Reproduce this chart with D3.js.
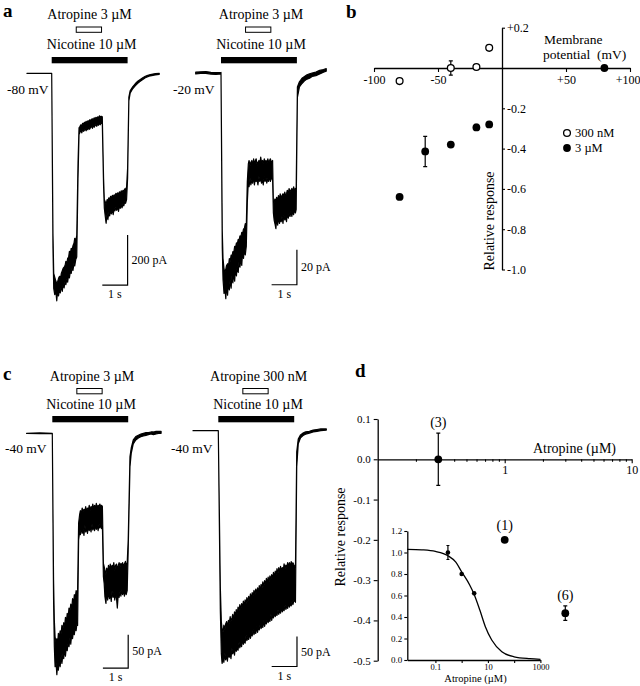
<!DOCTYPE html>
<html><head><meta charset="utf-8">
<script src="https://cdn.jsdelivr.net/npm/d3@7"></script>
<style>
body{margin:0;background:#fff}
svg{display:block}
</style></head><body>
<svg id="fig" width="640" height="686"></svg>
<script>
// ================= DATA =================
// Panel a/c: current traces, [time (s from nicotine onset), lower envelope (pA), upper envelope (pA)]
const traceA1 = [[-0.98,0,0],[0,0,0],[0.05,-700,-640],
[0.08,-860,-800],[0.12,-885,-815],[0.16,-870,-830],[0.2,-910,-840],[0.23,-875,-835],[0.27,-890,-820],[0.31,-865,-812],[0.34,-878,-825],[0.38,-850,-800],[0.42,-872,-790],[0.45,-845,-780],[0.49,-858,-775],[0.53,-830,-768],[0.56,-845,-752],[0.6,-822,-760],[0.63,-835,-740],[0.67,-805,-735],[0.7,-818,-712],[0.74,-790,-720],[0.77,-800,-700],[0.81,-775,-705],[0.84,-788,-690],[0.88,-760,-680],[0.91,-770,-660],[0.95,-745,-670],[0.99,-735,-648],
[1.04,-420,-360],
[1.08,-245,-218],[1.12,-236,-212],[1.15,-228,-206],[1.19,-238,-210],[1.22,-225,-200],[1.26,-232,-204],[1.29,-228,-196],[1.33,-222,-200],[1.36,-230,-192],[1.4,-220,-198],[1.43,-226,-190],[1.47,-214,-192],[1.5,-224,-186],[1.54,-216,-190],[1.57,-212,-184],[1.61,-220,-182],[1.64,-208,-186],[1.68,-216,-178],[1.71,-210,-184],[1.75,-204,-176],[1.78,-212,-180],[1.82,-202,-174],[1.85,-208,-178],[1.89,-200,-170],[1.92,-206,-176],[1.96,-198,-172],[2.0,-202,-174],
[2.05,-450,-420],
[2.08,-540,-505],[2.12,-575,-515],[2.15,-600,-525],[2.19,-560,-505],[2.22,-585,-510],[2.26,-555,-498],[2.29,-570,-505],[2.33,-548,-492],[2.36,-562,-500],[2.4,-542,-488],[2.43,-565,-495],[2.47,-540,-486],[2.5,-550,-492],[2.54,-535,-480],[2.57,-548,-488],[2.61,-530,-478],[2.64,-552,-486],[2.68,-528,-474],[2.71,-540,-482],[2.75,-525,-470],[2.78,-538,-478],[2.82,-520,-468],[2.85,-530,-472],[2.89,-512,-462],[2.92,-520,-465],[2.96,-505,-455],
[3.0,-420,-380],[3.05,-110,-95],[3.1,-80,-70],[3.2,-62,-54],[3.3,-50,-42],[3.4,-40,-32],[3.5,-32,-25],[3.6,-25,-18],[3.7,-18,-12],[3.8,-14,-8],[3.9,-10,-5],[4.0,-8,-3],[4.1,-6,-1],[4.25,-4,0]];

const traceA2 = [[-1.0,-0.5,0.5],[-0.8,-0.3,0.7],[-0.6,-0.2,0.8],[-0.4,-0.6,0.4],[-0.2,-0.8,0.2],[0,-0.5,0.3],
[0.05,-100,-90],
[0.08,-118,-106],[0.12,-126,-112],[0.15,-122,-114],[0.19,-129,-112],[0.22,-121,-110],[0.26,-127,-109],[0.29,-120,-111],[0.33,-124,-106],[0.36,-118,-108],[0.4,-123,-104],[0.43,-116,-105],[0.47,-120,-102],[0.5,-114,-103],[0.54,-119,-99],[0.57,-112,-100],[0.61,-116,-97],[0.64,-110,-98],[0.68,-114,-95],[0.71,-108,-96],[0.75,-111,-93],[0.78,-106,-94],[0.82,-110,-91],[0.85,-103,-92],[0.89,-106,-89],[0.92,-101,-89],[0.96,-104,-86],[1.0,-99,-87],
[1.04,-74,-62],
[1.08,-62,-52],[1.11,-65,-50],[1.15,-60,-53],[1.18,-64,-51],[1.22,-61,-50],[1.25,-63,-53],[1.29,-59,-49],[1.32,-64,-52],[1.36,-60,-50],[1.39,-62,-49],[1.43,-61,-53],[1.46,-64,-51],[1.5,-59,-50],[1.53,-62,-52],[1.57,-60,-48],[1.6,-63,-51],[1.64,-61,-50],[1.67,-64,-52],[1.71,-59,-49],[1.74,-62,-51],[1.78,-60,-50],[1.81,-63,-52],[1.85,-60,-49],[1.88,-62,-51],[1.92,-59,-50],[1.95,-62,-49],[1.99,-60,-51],[2.04,-61,-50],
[2.07,-80,-74],
[2.1,-84,-74],[2.13,-86,-72],[2.17,-89,-73],[2.2,-83,-71],[2.24,-87,-73],[2.27,-82,-70],[2.31,-86,-72],[2.34,-84,-69],[2.38,-85,-72],[2.41,-82,-70],[2.45,-86,-69],[2.48,-81,-71],[2.52,-84,-68],[2.55,-82,-70],[2.59,-85,-69],[2.62,-80,-67],[2.66,-83,-69],[2.69,-80,-66],[2.73,-82,-68],[2.76,-79,-67],[2.8,-82,-66],[2.83,-79,-68],[2.87,-81,-65],[2.9,-78,-67],[2.94,-80,-66],[2.97,-78,-67],
[3.02,-14,-8],[3.1,-8,-5],[3.2,-6,-3],[3.3,-4.5,-2],[3.4,-3.5,-1],[3.5,-3,-0.5],[3.6,-2,0],[3.75,-1.5,0.5],[3.9,-0.5,1.5],[4.05,0.5,2],[4.16,1,2.5]];

const traceC1 = [[-1.02,0,0],[-0.5,-0.5,0.5],[0,0,0],
[0.05,-250,-220],
[0.08,-320,-280],[0.11,-350,-305],[0.14,-340,-312],[0.18,-362,-308],[0.21,-345,-315],[0.24,-355,-300],[0.28,-338,-306],[0.31,-350,-296],[0.35,-332,-300],[0.38,-345,-288],[0.42,-330,-294],[0.45,-338,-284],[0.49,-322,-288],[0.52,-334,-276],[0.56,-318,-282],[0.59,-326,-270],[0.63,-312,-274],[0.66,-320,-262],[0.7,-306,-266],[0.73,-316,-256],[0.77,-300,-262],[0.8,-308,-248],[0.84,-296,-254],[0.87,-302,-242],[0.91,-290,-246],[0.94,-296,-236],[0.98,-284,-240],[1.0,-288,-234],
[1.04,-160,-135],
[1.08,-148,-122],[1.11,-152,-116],[1.15,-140,-120],[1.18,-150,-112],[1.22,-144,-118],[1.25,-153,-114],[1.29,-138,-116],[1.32,-148,-110],[1.36,-142,-118],[1.39,-150,-112],[1.43,-138,-114],[1.46,-146,-108],[1.5,-140,-116],[1.53,-148,-110],[1.57,-136,-112],[1.6,-145,-106],[1.64,-139,-114],[1.67,-146,-108],[1.71,-137,-112],[1.74,-144,-105],[1.78,-138,-112],[1.81,-146,-108],[1.85,-136,-110],[1.88,-142,-106],[1.92,-137,-111],[1.95,-143,-108],[1.98,-139,-110],
[2.02,-215,-195],
[2.05,-225,-200],[2.08,-245,-205],[2.12,-255,-212],[2.15,-238,-202],[2.19,-250,-208],[2.22,-236,-198],[2.26,-248,-205],[2.29,-240,-196],[2.33,-252,-204],[2.36,-236,-198],[2.4,-246,-200],[2.43,-238,-194],[2.47,-250,-206],[2.5,-240,-198],[2.54,-248,-196],[2.57,-262,-204],[2.61,-240,-198],[2.64,-246,-194],[2.68,-236,-200],[2.71,-244,-195],[2.75,-234,-198],[2.78,-242,-194],[2.82,-236,-200],[2.85,-244,-196],[2.89,-234,-192],[2.92,-242,-198],[2.96,-236,-194],
[3.0,-175,-160],[3.07,-50,-35],[3.12,-30,-22],[3.2,-16,-10],[3.3,-10,-5],[3.4,-7,-3],[3.5,-5,-1],[3.6,-4,0],[3.7,-3,1],[3.8,-2,1],[3.9,-1,2],[4.0,-2,2],[4.1,-1,3],[4.2,0,3],[4.3,0,3]];

const traceC2 = [[-1.0,0,0],[0,0,0],
[0.08,-300,-260],
[0.12,-372,-318],[0.15,-388,-330],[0.19,-378,-336],[0.22,-386,-324],[0.26,-370,-332],[0.29,-382,-322],[0.33,-375,-318],[0.36,-384,-328],[0.4,-366,-316],[0.43,-378,-322],[0.47,-370,-310],[0.5,-380,-318],[0.54,-362,-312],[0.57,-372,-306],[0.61,-365,-315],[0.64,-374,-302],[0.68,-358,-308],[0.71,-368,-298],[0.75,-360,-306],[0.78,-366,-294],[0.82,-352,-300],[0.85,-362,-290],[0.89,-355,-298],[0.92,-360,-288],[0.96,-346,-294],[0.99,-356,-284],[1.03,-350,-292],[1.06,-354,-282],[1.1,-340,-288],[1.13,-350,-278],[1.17,-344,-286],[1.2,-348,-276],[1.24,-336,-282],[1.27,-346,-272],[1.31,-338,-280],[1.34,-342,-270],[1.38,-330,-276],[1.41,-340,-266],[1.45,-334,-274],[1.48,-338,-264],[1.52,-326,-270],[1.55,-336,-262],[1.59,-328,-268],[1.62,-332,-258],[1.66,-320,-266],[1.69,-330,-256],[1.73,-324,-262],[1.76,-328,-252],[1.8,-316,-260],[1.83,-326,-250],[1.87,-318,-256],[1.9,-322,-246],[1.94,-312,-254],[1.97,-320,-244],[2.01,-314,-252],[2.04,-318,-242],[2.08,-306,-248],[2.11,-316,-240],[2.15,-308,-246],[2.18,-312,-236],[2.22,-302,-244],[2.25,-310,-234],[2.29,-304,-240],[2.32,-308,-230],[2.36,-298,-238],[2.39,-306,-228],[2.43,-300,-236],[2.46,-304,-226],[2.5,-294,-234],[2.53,-302,-228],[2.57,-296,-232],[2.6,-300,-222],[2.64,-290,-230],[2.67,-298,-224],[2.71,-292,-228],[2.74,-296,-220],[2.78,-286,-226],[2.81,-294,-220],[2.85,-288,-226],[2.88,-292,-218],[2.92,-284,-224],[2.95,-290,-220],[2.99,-282,-224],[3.05,-286,-228],
[3.1,-60,-35],[3.16,-22,-14],[3.25,-12,-7],[3.35,-8,-4],[3.45,-6,-2],[3.6,-4,-1],[3.75,-2,1],[3.9,-1,2],[4.05,0,3],[4.27,1,3]];

const holdingLabels = ["-80 mV", "-20 mV", "-40 mV", "-40 mV"];
const atropineLabels = ["Atropine 3 µM", "Atropine 3 µM", "Atropine 3 µM", "Atropine 300 nM"];
const nicotineLabel = "Nicotine 10 µM";
const nicotineWindow = [0, 3];        // s
const atropineWindow = [0.97, 1.97];  // s
const scaleBarPA = [200, 20, 50, 50];
const scaleBarS = 1;

// Panel b: relative response vs membrane potential
const bVoltage300 = [-80, -40, -20, -10];
const bResp300 = [-0.065, 0, 0.005, 0.1];
const bErr300 = [0, 0.035, 0, 0];
const bVoltage3 = [-80, -60, -40, -20, -10, 80];
const bResp3 = [-0.64, -0.414, -0.38, -0.295, -0.28, 0];
const bErr3 = [0, 0.075, 0, 0.015, 0, 0];
const bXTicks = [-100, -50, 50, 100];
const bXTickLabels = ["-100", "-50", "+50", "+100"];
const bYTicks = [0.2, -0.2, -0.4, -0.6, -0.8, -1.0];
const bYTickLabels = ["+0.2", "-0.2", "-0.4", "-0.6", "-0.8", "-1.0"];
const bLegend = ["300 nM", "3 µM"];

// Panel d: relative response vs atropine concentration
const dConc = [0.3, 1, 3];
const dResp = [0, -0.2, -0.382];
const dErr = [0.065, 0, 0.018];
const dN = ["(3)", "(1)", "(6)"];
const dYTicks = [0.1, 0, -0.1, -0.2, -0.3, -0.4, -0.5];
const dXTicks = [1, 10];
const dXMinor = [0.2, 0.3, 0.4, 0.5, 0.6, 0.7, 0.8, 0.9, 2, 3, 4, 5, 6, 7, 8, 9];

// Inset
const insetConc = [0.3, 1, 3];
const insetResp = [1.0, 0.8, 0.62];
const insetErr = [0.065, 0, 0];
const insetFitConc = [0.0085, 0.03, 0.1, 0.3, 0.6, 1, 2, 3, 5, 8, 14, 34, 100, 400, 1000];
const insetFitResp = [1.03, 1.025, 1.01, 0.97, 0.91, 0.82, 0.7, 0.61, 0.46, 0.31, 0.186, 0.077, 0.03, 0.012, 0.006];
const insetYTicks = [0, 0.2, 0.4, 0.6, 0.8, 1.0, 1.2];
const insetXTicks = [0.1, 1, 10, 100, 1000];
const insetXLabelled = [0.1, 10, 1000];

// ================= DRAWING =================
const FONT = "'Liberation Serif','Times New Roman',serif";
const svg = d3.select("#fig").attr("font-family", FONT);
svg.append("rect").attr("width", 640).attr("height", 686).attr("fill", "#fff");

function txt(x, y, s, size, anchor, extra) {
  const t = svg.append("text").attr("x", x).attr("y", y).attr("font-size", size)
    .attr("text-anchor", anchor || "start").attr("fill", "#000").text(s);
  if (extra) extra(t);
  return t;
}
function styleAxis(sel, fs) {
  sel.attr("font-family", FONT).attr("font-size", fs);
  sel.select(".domain").attr("stroke", "#000").attr("stroke-width", 1.3);
  sel.selectAll(".tick line").attr("stroke", "#000").attr("stroke-width", 1.1);
  sel.selectAll(".tick text").attr("fill", "#000");
}

// panel letters
const bold = t => t.attr("font-weight", "bold");
txt(3, 17, "a", 19, "start", bold);
txt(346, 18, "b", 19, "start", bold);
txt(3, 380, "c", 19, "start", bold);
txt(355, 377, "d", 19, "start", bold);

// ---- traces ----
const traces = [traceA1, traceA2, traceC1, traceC2];
const layout = [
  {x0: 51.7, y0: 73.3, k: 0.25, hx: 7, hy: 94, ax: 89.5, ay: 19, nx: 91.7, ny: 49, boxY: 27, barY: 57, st: 3.0, sI: -847},
  {x0: 221, y0: 73, k: 1.75, hx: 173, hy: 94, ax: 261, ay: 19, nx: 261, ny: 49, boxY: 27, barY: 57, st: 3.0, sI: -121},
  {x0: 52.3, y0: 433.3, k: 0.667, hx: 5, hy: 453, ax: 92, ay: 381, nx: 91, ny: 409, boxY: 388.5, barY: 416, st: 3.0, sI: -352},
  {x0: 218.3, y0: 430.7, k: 0.6, hx: 171, hy: 453, ax: 258.7, ay: 381, nx: 258, ny: 409, boxY: 388.5, barY: 416, st: 3.11, sI: -393}
];
const pxPerS = 25.3;

traces.forEach((data, i) => {
  const L = layout[i];
  const xs = d3.scaleLinear().domain([0, 1]).range([L.x0, L.x0 + pxPerS]);
  const ys = d3.scaleLinear().domain([0, -1]).range([L.y0, L.y0 + L.k]);
  const area = d3.area().x(d => xs(d[0])).y0(d => ys(d[1])).y1(d => ys(d[2]));
  svg.append("path").datum(data).attr("d", area)
    .attr("fill", "#000").attr("stroke", "#000").attr("stroke-width", 1.2)
    .attr("stroke-linejoin", "round");
  svg.append("rect").attr("x", xs(nicotineWindow[0])).attr("y", L.barY)
    .attr("width", xs(nicotineWindow[1]) - xs(nicotineWindow[0])).attr("height", 6.3).attr("fill", "#000");
  svg.append("rect").attr("x", xs(atropineWindow[0])).attr("y", L.boxY)
    .attr("width", xs(atropineWindow[1]) - xs(atropineWindow[0])).attr("height", 5.3)
    .attr("fill", "#fff").attr("stroke", "#000").attr("stroke-width", 1);
  txt(L.ax, L.ay, atropineLabels[i], 14, "middle");
  txt(L.nx, L.ny, nicotineLabel, 14, "middle");
  txt(L.hx, L.hy, holdingLabels[i], 13.5, "start");
  const sb = d3.path();
  sb.moveTo(xs(L.st - scaleBarS), ys(L.sI));
  sb.lineTo(xs(L.st), ys(L.sI));
  sb.lineTo(xs(L.st), ys(L.sI + scaleBarPA[i]));
  svg.append("path").attr("d", sb.toString()).attr("fill", "none").attr("stroke", "#000").attr("stroke-width", 1.2);
  txt(xs(L.st) + 4, (ys(L.sI) + ys(L.sI + scaleBarPA[i])) / 2 + 4, scaleBarPA[i] + " pA", 12, "start");
  txt(xs(L.st - scaleBarS / 2), ys(L.sI) + 13, scaleBarS + " s", 12, "middle");
});

// ---- panel b ----
const xB = d3.scaleLinear().domain([-100, 100]).range([374, 630]);
const yB = d3.scaleLinear().domain([-1, 0.2]).range([269.5, 27.7]);
const bx = svg.append("g").attr("transform", `translate(0,${yB(0)})`)
  .call(d3.axisBottom(xB).tickValues(bXTicks).tickFormat((d, i) => bXTickLabels[i]).tickSize(4).tickSizeOuter(0).tickPadding(3));
styleAxis(bx, 12);
bx.selectAll(".tick text").filter(d => d === 100).attr("text-anchor", "end").attr("x", 10);
const by = svg.append("g").attr("transform", `translate(${xB(0)},0)`)
  .call(d3.axisRight(yB).tickValues(bYTicks).tickFormat((d, i) => bYTickLabels[i]).tickSize(3).tickSizeOuter(0).tickPadding(2));
styleAxis(by, 12);
txt(544, 44, "Membrane", 13.5, "start");
txt(543, 58.5, "potential", 13.5, "start");
txt(597, 58.5, "(mV)", 13.5, "start");
txt(0, 0, "Relative response", 14, "middle", t => t.attr("transform", `translate(494,221) rotate(-90)`));

function errBars(xsc, ysc, xv, yv, ev, cap) {
  xv.forEach((x, i) => {
    if (!ev[i]) return;
    const px = xsc(x), y1 = ysc(yv[i] - ev[i]), y2 = ysc(yv[i] + ev[i]);
    const p = d3.path();
    p.moveTo(px, y1); p.lineTo(px, y2);
    p.moveTo(px - cap, y1); p.lineTo(px + cap, y1);
    p.moveTo(px - cap, y2); p.lineTo(px + cap, y2);
    svg.append("path").attr("d", p.toString()).attr("stroke", "#000").attr("stroke-width", 1.2).attr("fill", "none");
  });
}
errBars(xB, yB, bVoltage300, bResp300, bErr300, 2);
errBars(xB, yB, bVoltage3, bResp3, bErr3, 2);
svg.selectAll(null).data(bVoltage300).enter().append("circle")
  .attr("cx", d => xB(d)).attr("cy", (d, i) => yB(bResp300[i])).attr("r", 3.4)
  .attr("fill", "#fff").attr("stroke", "#000").attr("stroke-width", 1.3);
svg.selectAll(null).data(bVoltage3).enter().append("circle")
  .attr("cx", d => xB(d)).attr("cy", (d, i) => yB(bResp3[i])).attr("r", 3.9).attr("fill", "#000");
svg.append("circle").attr("cx", 567).attr("cy", 133).attr("r", 3.4).attr("fill", "#fff").attr("stroke", "#000").attr("stroke-width", 1.3);
svg.append("circle").attr("cx", 567).attr("cy", 148).attr("r", 3.9).attr("fill", "#000");
txt(575, 137, bLegend[0], 12.5, "start");
txt(575, 152, bLegend[1], 12.5, "start");

// ---- panel d ----
const xD = d3.scaleLog().domain([0.1, 10]).range([377.7, 631.7]);
const yD = d3.scaleLinear().domain([-0.5, 0.1]).range([660.7, 419]);
const dy = svg.append("g").attr("transform", `translate(${xD(0.1)},0)`)
  .call(d3.axisLeft(yD).tickValues(dYTicks).tickFormat(d => (Math.abs(d) < 1e-9 ? 0 : d).toFixed(1)).tickSize(4).tickSizeOuter(0).tickPadding(3));
styleAxis(dy, 11);
const dxm = svg.append("g").attr("transform", `translate(0,${yD(0)})`)
  .call(d3.axisBottom(xD).tickValues(dXMinor).tickFormat("").tickSize(2.5).tickSizeOuter(0));
styleAxis(dxm, 11);
dxm.select(".domain").remove();
const dx = svg.append("g").attr("transform", `translate(0,${yD(0)})`)
  .call(d3.axisBottom(xD).tickValues(dXTicks).tickFormat(d => String(d)).tickSize(4).tickSizeOuter(0).tickPadding(2));
styleAxis(dx, 12);
txt(616, 453, "Atropine (µM)", 14, "end");
txt(0, 0, "Relative response", 14, "middle", t => t.attr("transform", `translate(345,537) rotate(-90)`));
errBars(xD, yD, dConc, dResp, dErr, 2);
svg.selectAll(null).data(dConc).enter().append("circle")
  .attr("cx", d => xD(d)).attr("cy", (d, i) => yD(dResp[i])).attr("r", 3.9).attr("fill", "#000");
dConc.forEach((c, i) => {
  const yTop = dErr[i] ? yD(dResp[i] + dErr[i]) - 6 : yD(dResp[i]) - 10;
  txt(xD(c), yTop, dN[i], 14, "middle");
});

// ---- inset ----
const xI = d3.scaleLog().domain([0.0085, 1000]).range([407.3, 540.4]);
const yI = d3.scaleLinear().domain([0, 1.2]).range([660, 531]);
const iy = svg.append("g").attr("transform", `translate(${xI(0.0085)},0)`)
  .call(d3.axisLeft(yI).tickValues(insetYTicks).tickFormat(d => d.toFixed(1)).tickSize(3).tickSizeOuter(0).tickPadding(2));
styleAxis(iy, 9);
const ix = svg.append("g").attr("transform", `translate(0,${yI(0)})`)
  .call(d3.axisBottom(xI).tickValues(insetXTicks).tickFormat(d => insetXLabelled.includes(d) ? String(d) : "").tickSize(3).tickSizeOuter(0).tickPadding(1));
styleAxis(ix, 8.5);
txt(475.5, 682, "Atropine (µM)", 10.5, "middle");
const fitLine = d3.line().x(d => xI(d)).y((d, i) => yI(insetFitResp[i])).curve(d3.curveMonotoneX);
svg.append("path").attr("d", fitLine(insetFitConc)).attr("fill", "none").attr("stroke", "#000").attr("stroke-width", 1.3);
errBars(xI, yI, insetConc, insetResp, insetErr, 1.5);
svg.selectAll(null).data(insetConc).enter().append("circle")
  .attr("cx", d => xI(d)).attr("cy", (d, i) => yI(insetResp[i])).attr("r", 2.3).attr("fill", "#000");
</script></body></html>
